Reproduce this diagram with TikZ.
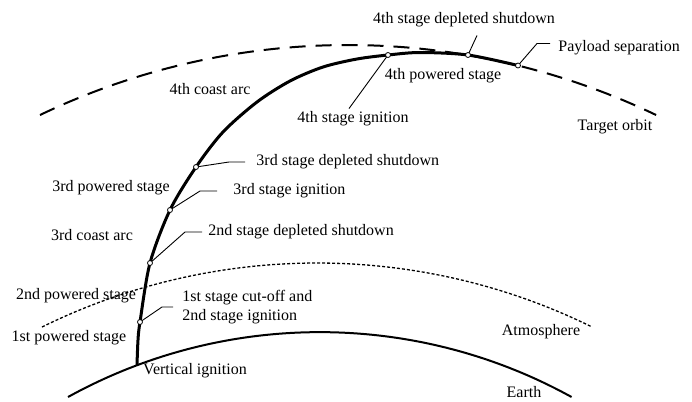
\documentclass[tikz,border=0pt]{standalone}
\usepackage{fontspec}
\setmainfont{Liberation Serif}
\usetikzlibrary{positioning}
\tikzset{
	txt/.style={font=\fontsize{16bp}{19bp}\selectfont, inner sep=3bp},
	lbl/.style={txt, text height=11bp, text depth=3.5bp},
	tag/.style={lbl, right},
	leader/.style={line width=0.9bp},
	trajectory/.style={line width=3bp, line join=round},
	earth/.style={line width=2bp},
	orbit/.style={line width=2bp, dash pattern=on 16bp off 10bp},
	atmo/.style={line width=1.3bp, dash pattern=on 3bp off 2bp},
	event/.style={circle, draw, fill=white, line width=0.8bp, inner sep=0pt, minimum size=5bp},
}

\begin{document}
\begin{tikzpicture}[x=1bp, y=-1bp]
	\useasboundingbox (0,0) rectangle (692,401);

	% Earth and atmosphere
	\draw[earth] (68,397) arc[start angle=-118.9, end angle=-61.1, radius=521];
	\draw[atmo] (42,327) arc[start angle=-116.2, end angle=-63.8, radius=623];

	% Target orbit
	\draw[orbit] (40,115) arc[start angle=-115.6, end angle=-64.4, radius=713];

	% Launch trajectory
	\coordinate (vi) at (137,365);
	\coordinate (cutoff) at (140,322);
	\coordinate (s2d) at (150,263);
	\coordinate (s3i) at (170,210);
	\coordinate (s3d) at (196,167);
	\coordinate (s4i) at (388,55);
	\coordinate (s4d) at (468,55);
	\coordinate (pay) at (518,65.5);
	\draw[trajectory] plot[smooth] coordinates {(vi) (138,340) (cutoff) (s2d) (s3i) (s3d) (223,132) (257,102) (290,81) (323,67) (357,59) (s4i) (420,52.5) (s4d) (pay)};

	% Events
	\draw[leader] (cutoff) -- ++(22,-15) -- ++(11,0) node[txt, right, align=left, xshift=6bp] (lcut) {1st stage cut-off and\\2nd stage ignition};
	\draw[leader] (s2d) -- ++(35,-31) -- ++(17,0) node[tag, xshift=3bp] (l2d) {2nd stage depleted shutdown};
	\draw[leader] (s3i) -- ++(30,-19) -- ++(17,0) node[tag, xshift=13bp] (l3i) {3rd stage ignition};
	\draw[leader] (s3d) -- ++(33,-5) -- ++(16,0) node[tag, xshift=8bp] (l3d) {3rd stage depleted shutdown};
	\draw[leader] (pay) -- ++(19,-22) -- ++(13,0) node[tag, xshift=5bp, yshift=-4bp] (lpay) {Payload separation};
	\node[lbl] (l4i) at (353,119) {4th stage ignition};
	\node[lbl] (l4d) at (464,20) {4th stage depleted shutdown};
	\draw[leader] (s4i) -- ([xshift=-4bp]l4i.north);
	\draw[leader] (s4d) -- ([xshift=13bp, yshift=-5bp]l4d.south);

	\foreach \p in {cutoff, s2d, s3i, s3d, s4i, s4d, pay}
		\node[event] (d-\p) at (\p) {};

	% Phases
	\node[lbl] (coast4) at (210,91) {4th coast arc};
	\node[lbl] (pow3) at (111,188) {3rd powered stage};
	\node[lbl] (coast3) at (92,237) {3rd coast arc};
	\node[lbl] (pow2) at (76,296) {2nd powered stage};
	\node[lbl] (pow1) at (69,338) {1st powered stage};
	\node[lbl] (vign) at (195,371) {Vertical ignition};
	\node[lbl] (pow4) at (443,76) {4th powered stage};
	\node[lbl] (target) at (615,127) {Target orbit};
	\node[lbl] (atmos) at (541,332) {Atmosphere};
	\node[lbl] (earthl) at (524,394) {Earth};
\end{tikzpicture}
\end{document}
